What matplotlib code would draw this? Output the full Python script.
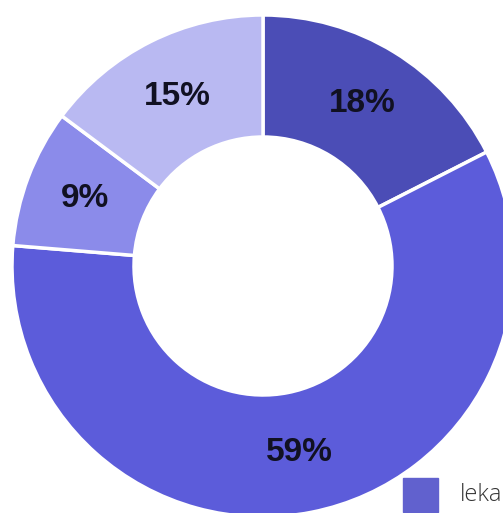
import matplotlib
matplotlib.use("Agg")
import matplotlib.pyplot as plt
from matplotlib.patches import Rectangle
import numpy as np

# Data
values = [17.5, 58.8, 8.9, 14.8]
labels = ["18%", "59%", "9%", "15%"]
colors = ["#4B4DB6", "#5C5CDA", "#8B8BEA", "#B9B9F2"]
legend_label = "leka"
legend_color = "#6161CE"

W, H = 503, 513
fig = plt.figure(figsize=(W / 100, H / 100), dpi=100)
ax = fig.add_axes([0, 0, 1, 1])
ax.axis("off")

cx, cy_top, R = 263, 266, 251
inner = 129 / 251

wedges, _ = ax.pie(values, radius=1, startangle=90, counterclock=False,
                   colors=colors,
                   wedgeprops=dict(width=1 - inner, edgecolor="white", linewidth=2.5))

ang = 90.0
tot = sum(values)
rmid = (1 + inner) / 2
for v, lab in zip(values, labels):
    span = v / tot * 360
    mid = np.deg2rad(ang - span / 2)
    ax.text(rmid * np.cos(mid), rmid * np.sin(mid), lab, ha="center", va="center",
            fontsize=24, fontweight="bold", family="Liberation Sans", color="#111122")
    ang -= span

ax.set_xlim(-cx / R, (W - cx) / R)
ax.set_ylim(-(H - cy_top) / R, cy_top / R)
ax.set_aspect("auto")

# legend entry (partially visible in reference)
fig.patches.append(Rectangle((403 / W, 1 - 512 / H), 35 / W, 34 / H,
                             transform=fig.transFigure, color=legend_color))
fig.text(460 / W, 1 - 495 / H, legend_label, ha="left", va="center", fontsize=17,
         family="Open Sans", fontweight="light", color="#333333")

fig.savefig("out.png", dpi=100)
